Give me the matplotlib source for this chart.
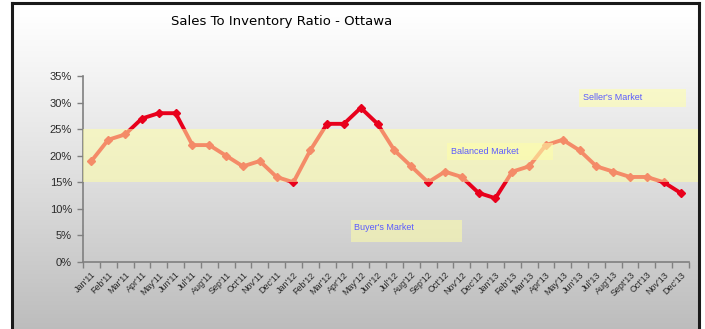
import numpy as np
import matplotlib
matplotlib.use("Agg")
import matplotlib.pyplot as plt
from matplotlib.patches import Rectangle

months = ["Jan'11", "Feb'11", "Mar'11", "Apr'11", "May'11", "Jun'11", "Jul'11", "Aug'11",
          "Sep'11", "Oct'11", "Nov'11", "Dec'11", "Jan'12", "Feb'12", "Mar'12", "Apr'12",
          "May'12", "Jun'12", "Jul'12", "Aug'12", "Sep'12", "Oct'12", "Nov'12", "Dec'12",
          "Jan'13", "Feb'13", "Mar'13", "Apr'13", "May'13", "Jun'13", "Jul'13", "Aug'13",
          "Sept'13", "Oct'13", "Nov'13", "Dec'13"]
ratio = [19, 23, 24, 27, 28, 28, 22, 22, 20, 18, 19, 16, 15, 21, 26, 26,
         29, 26, 21, 18, 15, 17, 16, 13, 12, 17, 18, 22, 23, 21, 18, 17,
         16, 16, 15, 13]
balanced_low, balanced_high = 15, 25
zone_labels = ["Seller's Market", "Balanced Market", "Buyer's Market"]

W, H = 705, 329
fig = plt.figure(figsize=(W / 100, H / 100), dpi=100)
fig.patch.set_facecolor("white")

def fx(px):
    return px / W

def fy(py):
    return 1 - py / H

# background frame with gradient
bg = fig.add_axes([fx(12), 0, fx(699) - fx(12), fy(3)], zorder=0)
grad = np.linspace(0, 1, 256).reshape(-1, 1)
vals = 1.0 - 0.26 * np.clip((grad - 0.02) / 0.98, 0, 1) ** 1.1
img = np.dstack([vals, vals, vals])
bg.imshow(img, aspect="auto", extent=[0, 1, 0, 1], origin="upper")
bg.set_xlim(0, 1)
bg.set_ylim(0, 1)
bg.set_xticks([])
bg.set_yticks([])
for s in ["left", "right", "top"]:
    bg.spines[s].set_color("#1a1a1a")
    bg.spines[s].set_linewidth(2.2)
bg.spines["bottom"].set_visible(False)

ax = fig.add_axes([fx(83), fy(262), fx(689) - fx(83), fy(76) - fy(262)], zorder=2)
ax.patch.set_alpha(0)

x = np.arange(len(months))
y = np.array(ratio) / 100.0
ax.plot(x, y, color="#e8001c", lw=2.8, marker="D", ms=4, zorder=3, solid_joinstyle="round")

band_color = (1.0, 1.0, 0.66)
ax.axhspan(balanced_low / 100, balanced_high / 100, xmin=0, xmax=(698 - 83) / (689 - 83),
           color=band_color, alpha=0.55, lw=0, zorder=4, clip_on=False)

ax.set_xlim(-0.5, len(months) - 0.5)
ax.set_ylim(0, 0.35)
ax.set_yticks(np.arange(0, 0.351, 0.05))
ax.set_yticklabels([f"{int(round(v*100))}%" for v in np.arange(0, 0.351, 0.05)],
                   fontsize=8, color="#2a2a2a", family="Liberation Sans")
ax.set_xticks(x)
ax.set_xticklabels(months, rotation=45, ha="right", rotation_mode="anchor",
                   fontsize=6.5, color="#2a2a2a", family="Liberation Sans")
ax.set_xticks(np.arange(-0.5, len(months)), minor=True)
ax.tick_params(axis="x", which="major", length=0, pad=6)
ax.tick_params(axis="x", which="minor", length=4, color="#808080", width=1)
ax.tick_params(axis="y", length=4, color="#808080", width=1, pad=4)
for s in ["top", "right"]:
    ax.spines[s].set_visible(False)
for s in ["left", "bottom"]:
    ax.spines[s].set_color("#808080")
    ax.spines[s].set_linewidth(1.2)

# zone label boxes
boxes = [(579, 89, 686, 107), (447, 143, 553, 160), (351, 220, 462, 242)]
text_pos = [(583, 98), (451, 151), (354, 228)]
for (x0, y0, x1, y1), (tx, ty), lab in zip(boxes, text_pos, zone_labels):
    fig.patches.append(Rectangle((fx(x0), fy(y1)), fx(x1) - fx(x0), fy(y0) - fy(y1),
                                 transform=fig.transFigure, facecolor=band_color,
                                 alpha=0.55, lw=0, zorder=5))
    fig.text(fx(tx), fy(ty), lab, fontsize=6.5, color="#5b5bff", va="center", ha="left",
             family="Liberation Sans", zorder=6)

fig.text(fx(282), fy(22), "Sales To Inventory Ratio - Ottawa", fontsize=9.5,
         ha="center", va="center", color="#000000", family="DejaVu Sans", zorder=6)

fig.savefig("out.png", dpi=100)
